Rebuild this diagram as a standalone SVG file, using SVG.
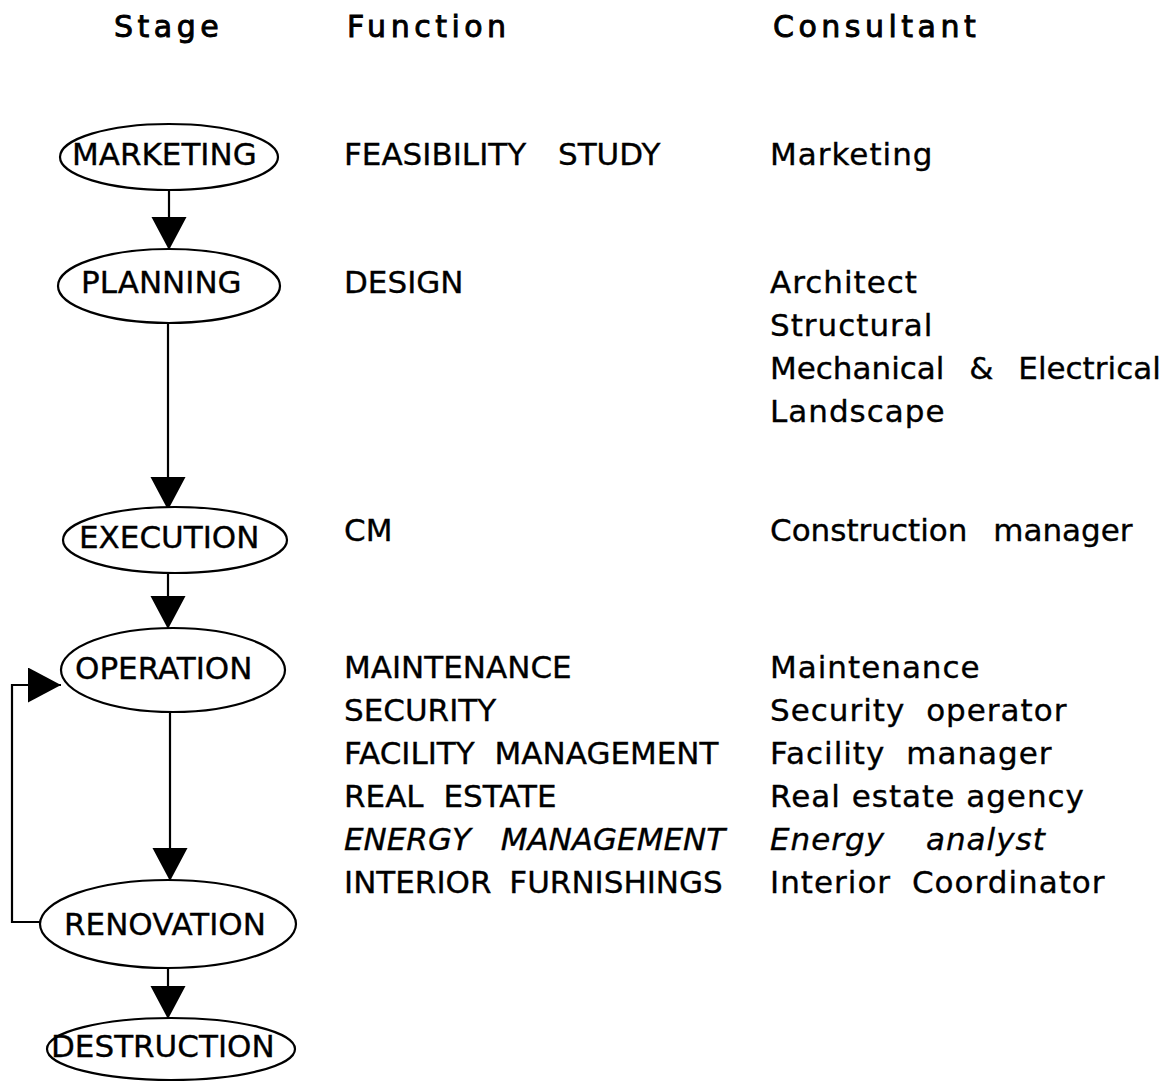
<svg xmlns="http://www.w3.org/2000/svg" width="1171" height="1087" viewBox="0 0 1171 1087">
  <style>
    text { font-family: "DejaVu Sans", "Liberation Sans", sans-serif; fill: #000; stroke: #000; stroke-width: 0.35; }
    .hdr { font-size: 30px; letter-spacing: 4.5px; stroke-width: 0.9; }
    .body { font-size: 31px; word-spacing: 10px; }
    #consultants text { letter-spacing: 1px; }
    #consultants text.tight { letter-spacing: 0; }
    .it { font-style: italic; word-spacing: 20px; }
    .node ellipse { fill: #fff; stroke: #000; stroke-width: 2.2; }
    .node text { font-size: 31px; }
    #connectors path { fill: none; stroke: #000; stroke-width: 2.2; }
  </style>
  <defs>
    <marker id="head" markerUnits="userSpaceOnUse" markerWidth="36" markerHeight="36" refX="33" refY="17.5" orient="auto">
      <path d="M0,0 L33,17.5 L0,35 z" fill="#000"/>
    </marker>
  </defs>
  <rect width="1171" height="1087" fill="#fff"/>

  <!-- column headings -->
  <g id="headings">
    <text class="hdr" x="114" y="37">Stage</text>
    <text class="hdr" x="347" y="37">Function</text>
    <text class="hdr" x="773" y="37">Consultant</text>
  </g>

  <!-- flow connectors -->
  <g id="connectors">
    <path d="M169,190 L169,250" marker-end="url(#head)"/>
    <path d="M168,323 L168,510" marker-end="url(#head)"/>
    <path d="M168,573 L168,629" marker-end="url(#head)"/>
    <path d="M170,713 L170,881" marker-end="url(#head)"/>
    <path d="M168,968 L168,1019" marker-end="url(#head)"/>
    <path d="M40,922 L12,922 L12,685 L61,685" marker-end="url(#head)"/>
  </g>

  <!-- stage nodes -->
  <g id="marketing" class="node">
    <ellipse cx="169" cy="157" rx="109" ry="33"/>
    <text x="72" y="165">MARKETING</text>
  </g>
  <g id="planning" class="node">
    <ellipse cx="169" cy="286" rx="111" ry="37"/>
    <text x="81" y="293">PLANNING</text>
  </g>
  <g id="execution" class="node">
    <ellipse cx="175" cy="540" rx="112" ry="33"/>
    <text x="79" y="548">EXECUTION</text>
  </g>
  <g id="operation" class="node">
    <ellipse cx="173" cy="670" rx="112" ry="42"/>
    <text x="75" y="679">OPERATION</text>
  </g>
  <g id="renovation" class="node">
    <ellipse cx="168" cy="924" rx="128" ry="44"/>
    <text x="64" y="935">RENOVATION</text>
  </g>
  <g id="destruction" class="node">
    <ellipse cx="171" cy="1049" rx="124" ry="31"/>
    <text x="51" y="1057">DESTRUCTION</text>
  </g>

  <!-- functions -->
  <g id="functions" class="body">
    <text x="344" y="165" style="word-spacing:22px">FEASIBILITY STUDY</text>
    <text x="344" y="293">DESIGN</text>
    <text x="344" y="541">CM</text>
    <text x="344" y="678">MAINTENANCE</text>
    <text x="344" y="721">SECURITY</text>
    <text x="344" y="764">FACILITY MANAGEMENT</text>
    <text x="344" y="807">REAL ESTATE</text>
    <text x="344" y="850" class="it">ENERGY MANAGEMENT</text>
    <text x="344" y="893" style="word-spacing:8px">INTERIOR FURNISHINGS</text>
  </g>

  <!-- consultants -->
  <g id="consultants" class="body">
    <text x="770" y="165">Marketing</text>
    <text x="770" y="293">Architect</text>
    <text x="770" y="336">Structural</text>
    <text x="770" y="379" class="tight" style="word-spacing:15px">Mechanical &amp; Electrical</text>
    <text x="770" y="422">Landscape</text>
    <text x="770" y="541" class="tight" style="word-spacing:16px">Construction manager</text>
    <text x="770" y="678">Maintenance</text>
    <text x="770" y="721">Security operator</text>
    <text x="770" y="764">Facility manager</text>
    <text x="770" y="807" style="word-spacing:0px">Real estate agency</text>
    <text x="770" y="850" class="it" style="word-spacing:30px">Energy analyst</text>
    <text x="770" y="893">Interior Coordinator</text>
  </g>
</svg>
